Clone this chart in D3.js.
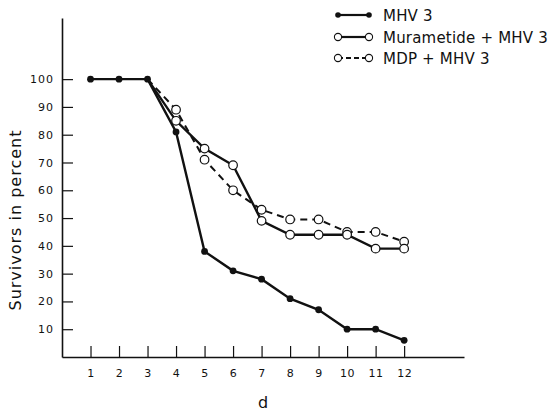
<!DOCTYPE html>
<html>
<head>
<meta charset="utf-8">
<script src="https://cdn.jsdelivr.net/npm/d3@7"></script>
<style>
  html, body { margin: 0; padding: 0; background: #fff; }
  svg { display: block; }
  text { font-family: "DejaVu Sans", "Liberation Sans", sans-serif; fill: #111; }
</style>
</head>
<body>
<svg id="chart" width="555" height="412"></svg>
<script>
const days = [1, 2, 3, 4, 5, 6, 7, 8, 9, 10, 11, 12];
const mhv3 = [100, 100, 100, 81, 38, 31, 28, 21, 17, 10, 10, 6];
const murametideDays = [3, 4, 5, 6, 7, 8, 9, 10, 11, 12];
const murametide = [100, 85, 75, 69, 49, 44, 44, 44, 39, 39];
const mdpDays = [3, 4, 5, 6, 7, 8, 9, 10, 11, 12];
const mdp = [100, 89, 71, 60, 53, 49.5, 49.5, 45, 45, 41.5];
const yTicks = [10, 20, 30, 40, 50, 60, 70, 80, 90, 100];
const xTicks = [1, 2, 3, 4, 5, 6, 7, 8, 9, 10, 11, 12];
const seriesNames = ["MHV 3", "Murametide + MHV 3", "MDP + MHV 3"];

const svg = d3.select("#chart");
const x = d3.scaleLinear().domain([0, 14.1]).range([62, 464]);
const y = d3.scaleLinear().domain([0, 122]).range([357, 18]);

// axes
const yAxis = d3.axisLeft(y).tickValues(yTicks).tickSizeInner(-11).tickSizeOuter(0).tickPadding(8);
const gy = svg.append("g").attr("transform", `translate(${x(0)},0)`).call(yAxis);
gy.select(".domain").attr("stroke", "#111").attr("stroke-width", 1.6);
gy.selectAll(".tick line").attr("stroke", "#111").attr("stroke-width", 1.2);
gy.selectAll(".tick text").style("font-size", "11px").attr("fill", "#111").attr("letter-spacing", "1px");

const xAxis = d3.axisBottom(x).tickValues(xTicks).tickSizeInner(-11).tickSizeOuter(0).tickPadding(12);
const gx = svg.append("g").attr("transform", `translate(0,${y(0)})`).call(xAxis);
gx.select(".domain").attr("stroke", "#111").attr("stroke-width", 1.6);
gx.selectAll(".tick line").attr("stroke", "#111").attr("stroke-width", 1.2);
gx.selectAll(".tick text").style("font-size", "11px").attr("fill", "#111").attr("letter-spacing", "0.5px");

// axis titles
svg.append("text")
  .attr("transform", `translate(21,220) rotate(-90)`)
  .attr("text-anchor", "middle")
  .attr("letter-spacing", "1px")
  .style("font-size", "16px")
  .text("Survivors in percent");
svg.append("text")
  .attr("x", 263).attr("y", 408)
  .attr("text-anchor", "middle")
  .style("font-size", "16px")
  .text("d");

const line = d3.line().x(d => x(d[0])).y(d => y(d[1]));

const sMHV = days.map((d, i) => [d, mhv3[i]]);
const sMur = murametideDays.map((d, i) => [d, murametide[i]]);
const sMdp = mdpDays.map((d, i) => [d, mdp[i]]);

svg.append("path").datum(sMdp).attr("d", line)
  .attr("fill", "none").attr("stroke", "#111").attr("stroke-width", 2)
  .attr("stroke-dasharray", "7,5");
svg.append("path").datum(sMur).attr("d", line)
  .attr("fill", "none").attr("stroke", "#111").attr("stroke-width", 2.4);
svg.append("path").datum(sMHV).attr("d", line)
  .attr("fill", "none").attr("stroke", "#111").attr("stroke-width", 2.4);

// markers
svg.append("g").selectAll("circle").data(sMdp.filter(d => d[0] > 3)).join("circle")
  .attr("cx", d => x(d[0])).attr("cy", d => y(d[1])).attr("r", 4.3)
  .attr("fill", "#fff").attr("stroke", "#111").attr("stroke-width", 1.2);
svg.append("g").selectAll("circle").data(sMur.filter(d => d[0] > 3)).join("circle")
  .attr("cx", d => x(d[0])).attr("cy", d => y(d[1])).attr("r", 4.3)
  .attr("fill", "#fff").attr("stroke", "#111").attr("stroke-width", 1.2);
svg.append("g").selectAll("circle").data(sMHV).join("circle")
  .attr("cx", d => x(d[0])).attr("cy", d => y(d[1])).attr("r", 3.4)
  .attr("fill", "#111");

// legend
const leg = svg.append("g");
const rows = [
  { name: seriesNames[0], yy: 15, filled: true, dash: null },
  { name: seriesNames[1], yy: 37, filled: false, dash: null },
  { name: seriesNames[2], yy: 58, filled: false, dash: "5,3" }
];
rows.forEach(r => {
  leg.append("line").attr("x1", 338).attr("x2", 369).attr("y1", r.yy).attr("y2", r.yy)
    .attr("stroke", "#111").attr("stroke-width", 2.2)
    .attr("stroke-dasharray", r.dash);
  [338, 369].forEach(cx => {
    leg.append("circle").attr("cx", cx).attr("cy", r.yy)
      .attr("r", r.filled ? 2.8 : 3.6)
      .attr("fill", r.filled ? "#111" : "#fff")
      .attr("stroke", "#111").attr("stroke-width", r.filled ? 0 : 1.1);
  });
  leg.append("text").attr("x", 383).attr("y", r.yy + 6)
    .attr("letter-spacing", "0.2px")
    .style("font-size", "15px").text(r.name);
});
</script>
</body>
</html>
